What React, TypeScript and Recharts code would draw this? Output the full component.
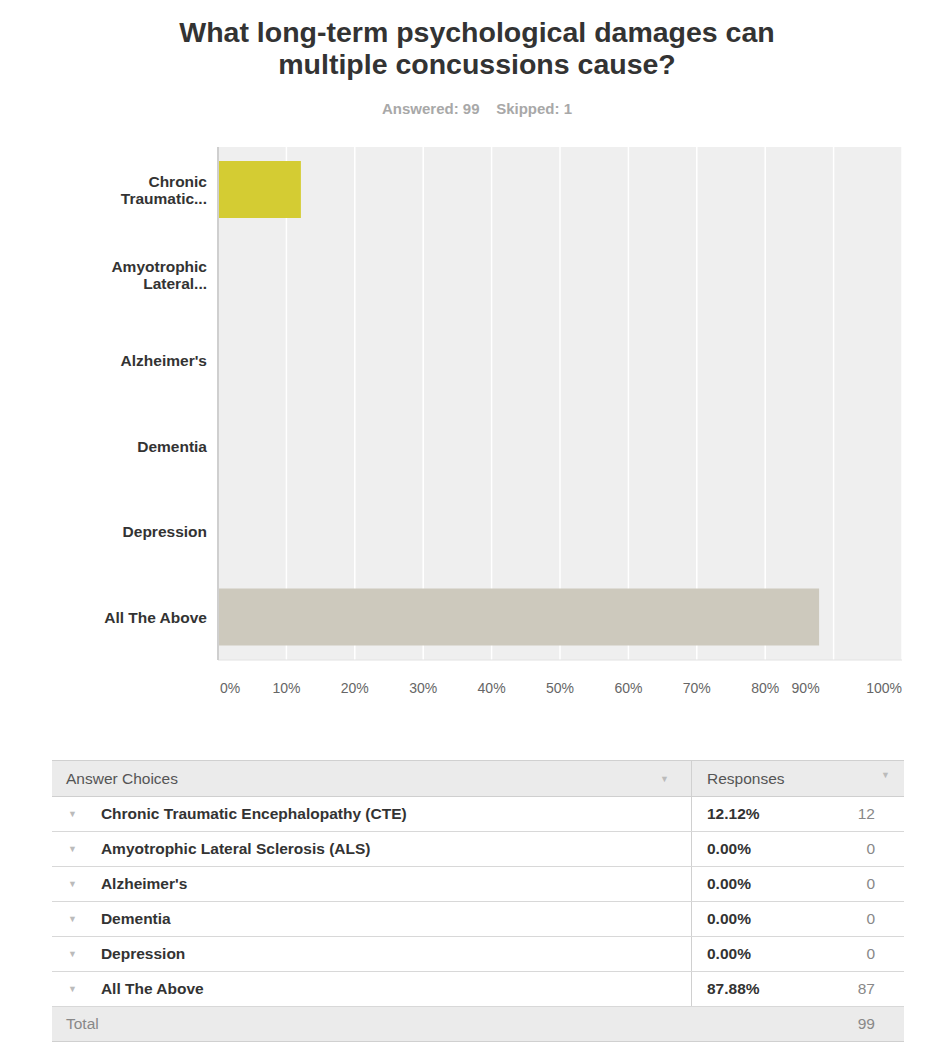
import { BarChart, Bar, XAxis, YAxis, CartesianGrid, Cell } from 'recharts'

const CHOICES = [
  'Chronic Traumatic Encephalopathy (CTE)',
  'Amyotrophic Lateral Sclerosis (ALS)',
  "Alzheimer's",
  'Dementia',
  'Depression',
  'All The Above',
]
const SHORT_LABELS = [
  ['Chronic', 'Traumatic...'],
  ['Amyotrophic', 'Lateral...'],
  ["Alzheimer's"],
  ['Dementia'],
  ['Depression'],
  ['All The Above'],
]
const PERCENTS = [12.12, 0, 0, 0, 0, 87.88]
const COUNTS = [12, 0, 0, 0, 0, 87]
const TOTAL = 99
const SKIPPED = 1
const X_TICKS = [0, 10, 20, 30, 40, 50, 60, 70, 80, 90, 100]
const BAR_COLORS = ['#d4cc33', '#a9c8d6', '#8dbf7a', '#e0a65a', '#9b8fc0', '#cdc9bd']

const FONT = '"Liberation Sans", Arial, Helvetica, sans-serif'

const rows = CHOICES.map((name, i) => ({ name, idx: i, pct: PERCENTS[i], count: COUNTS[i] }))

function YTick(props: any) {
  const { x, y, payload } = props
  const lines = SHORT_LABELS[payload.value] || []
  const start = -((lines.length - 1) * 17) / 2
  return (
    <text x={x} y={y} textAnchor="end" fill="#333" fontSize={15.5} fontWeight="bold" fontFamily={FONT}>
      {lines.map((l, i) => (
        <tspan key={i} x={x} y={y + start + i * 17} dy="0.35em">{l}</tspan>
      ))}
    </text>
  )
}

function XTick(props: any) {
  const { x, y, payload } = props
  const v = payload.value
  let anchor = 'middle'
  let dx = 0
  if (v === 0) { anchor = 'start'; dx = 2 }
  if (v === 90) { dx = -28 }
  if (v === 100) { anchor = 'end'; dx = 0 }
  return (
    <text x={x + dx} y={y} dy={25} textAnchor={anchor} fill="#666" fontSize={14} fontFamily={FONT}>
      {v}%
    </text>
  )
}

const Caret = ({ color = '#bbb' }: { color?: string }) => (
  <span style={{ fontSize: 9, color }}>▼</span>
)

export default function App() {
  const cell: React.CSSProperties = { height: 35, display: 'flex', alignItems: 'center', boxSizing: 'border-box' }
  return (
    <div style={{ position: 'absolute', left: 0, top: 0, width: 938, height: 1046, background: '#fff', fontFamily: FONT }}>
      <div style={{ position: 'absolute', top: 16, left: 0, width: 938, paddingLeft: 16, boxSizing: 'border-box', textAlign: 'center', fontSize: 28.5, fontWeight: 'bold', color: '#333', lineHeight: '32px' }}>
        What long-term psychological damages can<br />multiple concussions cause?
      </div>
      <div style={{ position: 'absolute', top: 100, left: 0, width: 938, paddingLeft: 16, boxSizing: 'border-box', textAlign: 'center', fontSize: 15, fontWeight: 'bold', color: '#a8a8a8' }}>
        Answered: {TOTAL}&nbsp;&nbsp;&nbsp;&nbsp;Skipped: {SKIPPED}
      </div>

      <div style={{ position: 'absolute', top: 0, left: 0 }}>
        <BarChart
          width={938}
          height={720}
          data={rows}
          layout="vertical"
          margin={{ top: 147, right: 36, bottom: 20, left: 0 }}
          barSize={57}
        >
          <CartesianGrid horizontal={false} stroke="#ffffff" strokeWidth={1.5} fill="#efefef" />
          <XAxis
            type="number"
            domain={[0, 100]}
            ticks={X_TICKS}
            tick={<XTick />}
            tickLine={false}
            axisLine={{ stroke: '#e2e2e2' }}
            height={40}
            interval={0}
          />
          <YAxis
            type="category"
            dataKey="idx"
            width={218}
            tick={<YTick />}
            tickLine={false}
            tickMargin={5}
            axisLine={{ stroke: '#cfcfcf', strokeWidth: 2 }}
            interval={0}
          />
          <Bar dataKey="pct" isAnimationActive={false}>
            {rows.map((r, i) => (
              <Cell key={r.name} fill={BAR_COLORS[i]} />
            ))}
          </Bar>
        </BarChart>
      </div>

      <div style={{ position: 'absolute', top: 760, left: 52, width: 852, fontSize: 15.5, color: '#333' }}>
        <div style={{ ...cell, height: 37, background: '#ebebeb', borderTop: '1px solid #d0d0d0', borderBottom: '1px solid #cfcfcf', color: '#555' }}>
          <div style={{ width: 640, display: 'flex', justifyContent: 'space-between', paddingLeft: 14, paddingRight: 22, boxSizing: 'border-box', borderRight: '1px solid #d0d0d0', height: '100%', alignItems: 'center' }}>
            <span>Answer Choices</span><Caret />
          </div>
          <div style={{ flex: 1, display: 'flex', justifyContent: 'space-between', paddingLeft: 15, paddingRight: 14 }}>
            <span>Responses</span><Caret />
          </div>
        </div>
        {rows.map((r) => (
          <div key={r.name} style={{ ...cell, borderBottom: '1px solid #d8d8d8' }}>
            <div style={{ width: 640, height: '100%', display: 'flex', alignItems: 'center', borderRight: '1px solid #d0d0d0', boxSizing: 'border-box', paddingLeft: 16 }}>
              <Caret />
              <span style={{ marginLeft: 24, fontWeight: 'bold' }}>{r.name}</span>
            </div>
            <div style={{ flex: 1, display: 'flex', justifyContent: 'space-between', paddingLeft: 15, paddingRight: 29 }}>
              <span style={{ fontWeight: 'bold' }}>{r.pct.toFixed(2)}%</span>
              <span style={{ color: '#888' }}>{r.count}</span>
            </div>
          </div>
        ))}
        <div style={{ ...cell, background: '#ebebeb', justifyContent: 'space-between', paddingLeft: 14, paddingRight: 29, color: '#888', borderBottom: '1px solid #d0d0d0' }}>
          <span>Total</span><span>{TOTAL}</span>
        </div>
      </div>
    </div>
  )
}
